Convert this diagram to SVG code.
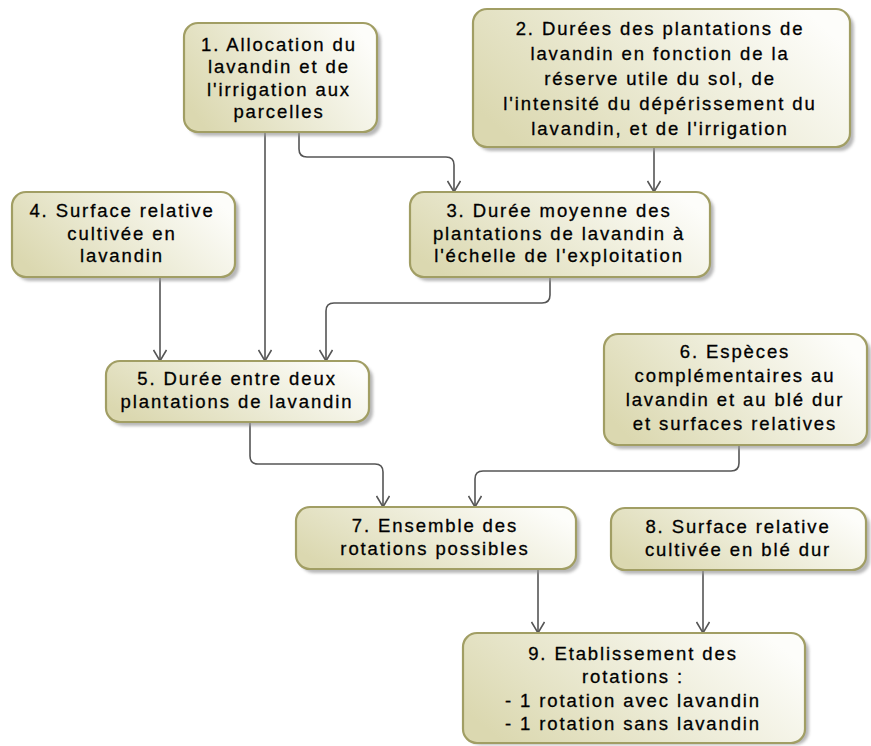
<svg xmlns="http://www.w3.org/2000/svg" width="871" height="746" viewBox="0 0 871 746">
<style>
.box{fill:url(#g);stroke:#a19e64;stroke-width:2.2}
.sh{fill:#9a9a9a;opacity:0.7;filter:url(#blur)}
.t{font-family:"Liberation Sans",Arial,sans-serif;font-size:18.5px;letter-spacing:1.9px;fill:#000;stroke:#000;stroke-width:0.3;text-anchor:middle}
.c{fill:none;stroke:#555;stroke-width:1.6;marker-end:url(#arr)}
</style>
<defs>
<linearGradient id="g" x1="0" y1="0.7" x2="1" y2="0.3">
<stop offset="0" stop-color="#dbd8b0"/>
<stop offset="0.5" stop-color="#ecebd6"/>
<stop offset="1" stop-color="#fdfdfa"/>
</linearGradient>
<filter id="blur" x="-10%" y="-10%" width="120%" height="120%"><feGaussianBlur stdDeviation="1.5"/></filter>
<marker id="arr" viewBox="-12 -7 14 14" refX="0" refY="0" markerWidth="14" markerHeight="14" orient="auto" markerUnits="userSpaceOnUse">
<path d="M-11,-6.5 L0,0 L-11,6.5" fill="none" stroke="#555" stroke-width="1.6"/>
</marker>
</defs>

<g id="connectors">
<path class="c" d="M265,132 V361"/>
<path class="c" d="M299,132 V149 Q299,157 307,157 H446 Q454,157 454,165 V192"/>
<path class="c" d="M654,147 V192"/>
<path class="c" d="M160,277 V361"/>
<path class="c" d="M550,277 V295 Q550,303 542,303 H334 Q326,303 326,311 V361"/>
<path class="c" d="M250,422 V456 Q250,464 258,464 H375 Q383,464 383,472 V507"/>
<path class="c" d="M739,445 V463 Q739,471 731,471 H483 Q475,471 475,479 V507"/>
<path class="c" d="M538,569 V633"/>
<path class="c" d="M703,570 V633"/>
</g>

<g id="node1">
<rect class="sh" x="188" y="27" width="193" height="109" rx="14"/>
<rect class="box" x="184" y="23" width="193" height="109" rx="14"/>
<text class="t"><tspan x="279" y="51">1. Allocation du</tspan><tspan x="279" y="73">lavandin et de</tspan><tspan x="279" y="95.5">l'irrigation aux</tspan><tspan x="279" y="118">parcelles</tspan></text>
</g>

<g id="node2">
<rect class="sh" x="477" y="13" width="377" height="138" rx="14"/>
<rect class="box" x="473" y="9" width="377" height="138" rx="14"/>
<text class="t"><tspan x="660" y="35">2. Durées des plantations de</tspan><tspan x="660" y="60">lavandin en fonction de la</tspan><tspan x="660" y="85">réserve utile du sol, de</tspan><tspan x="660" y="110">l'intensité du dépérissement du</tspan><tspan x="660" y="135">lavandin, et de l'irrigation</tspan></text>
</g>

<g id="node3">
<rect class="sh" x="414" y="196" width="300" height="85" rx="14"/>
<rect class="box" x="410" y="192" width="300" height="85" rx="14"/>
<text class="t"><tspan x="559" y="217">3. Durée moyenne des</tspan><tspan x="559" y="239.5">plantations de lavandin à</tspan><tspan x="559" y="262">l'échelle de l'exploitation</tspan></text>
</g>

<g id="node4">
<rect class="sh" x="16" y="196" width="223" height="85" rx="14"/>
<rect class="box" x="12" y="192" width="223" height="85" rx="14"/>
<text class="t"><tspan x="122" y="217">4. Surface relative</tspan><tspan x="122" y="239.5">cultivée en</tspan><tspan x="122" y="262">lavandin</tspan></text>
</g>

<g id="node5">
<rect class="sh" x="110" y="365" width="263" height="61" rx="14"/>
<rect class="box" x="106" y="361" width="263" height="61" rx="14"/>
<text class="t"><tspan x="237" y="385">5. Durée entre deux</tspan><tspan x="237" y="408">plantations de lavandin</tspan></text>
</g>

<g id="node6">
<rect class="sh" x="608" y="338" width="263" height="111" rx="14"/>
<rect class="box" x="604" y="334" width="263" height="111" rx="14"/>
<text class="t"><tspan x="735" y="358">6. Espèces</tspan><tspan x="735" y="382">complémentaires au</tspan><tspan x="735" y="406">lavandin et au blé dur</tspan><tspan x="735" y="430">et surfaces relatives</tspan></text>
</g>

<g id="node7">
<rect class="sh" x="300" y="511" width="280" height="62" rx="14"/>
<rect class="box" x="296" y="507" width="280" height="62" rx="14"/>
<text class="t"><tspan x="435" y="532">7. Ensemble des</tspan><tspan x="435" y="555">rotations possibles</tspan></text>
</g>

<g id="node8">
<rect class="sh" x="615" y="512" width="255" height="62" rx="14"/>
<rect class="box" x="611" y="508" width="255" height="62" rx="14"/>
<text class="t"><tspan x="738" y="533">8. Surface relative</tspan><tspan x="738" y="556">cultivée en blé dur</tspan></text>
</g>

<g id="node9">
<rect class="sh" x="467" y="637" width="342" height="108" rx="14"/>
<rect class="box" x="463" y="633" width="342" height="110" rx="14"/>
<text class="t"><tspan x="633" y="660">9. Etablissement des</tspan><tspan x="633" y="683">rotations :</tspan><tspan x="633" y="707">- 1 rotation avec lavandin</tspan><tspan x="633" y="730">- 1 rotation sans lavandin</tspan></text>
</g>
</svg>
